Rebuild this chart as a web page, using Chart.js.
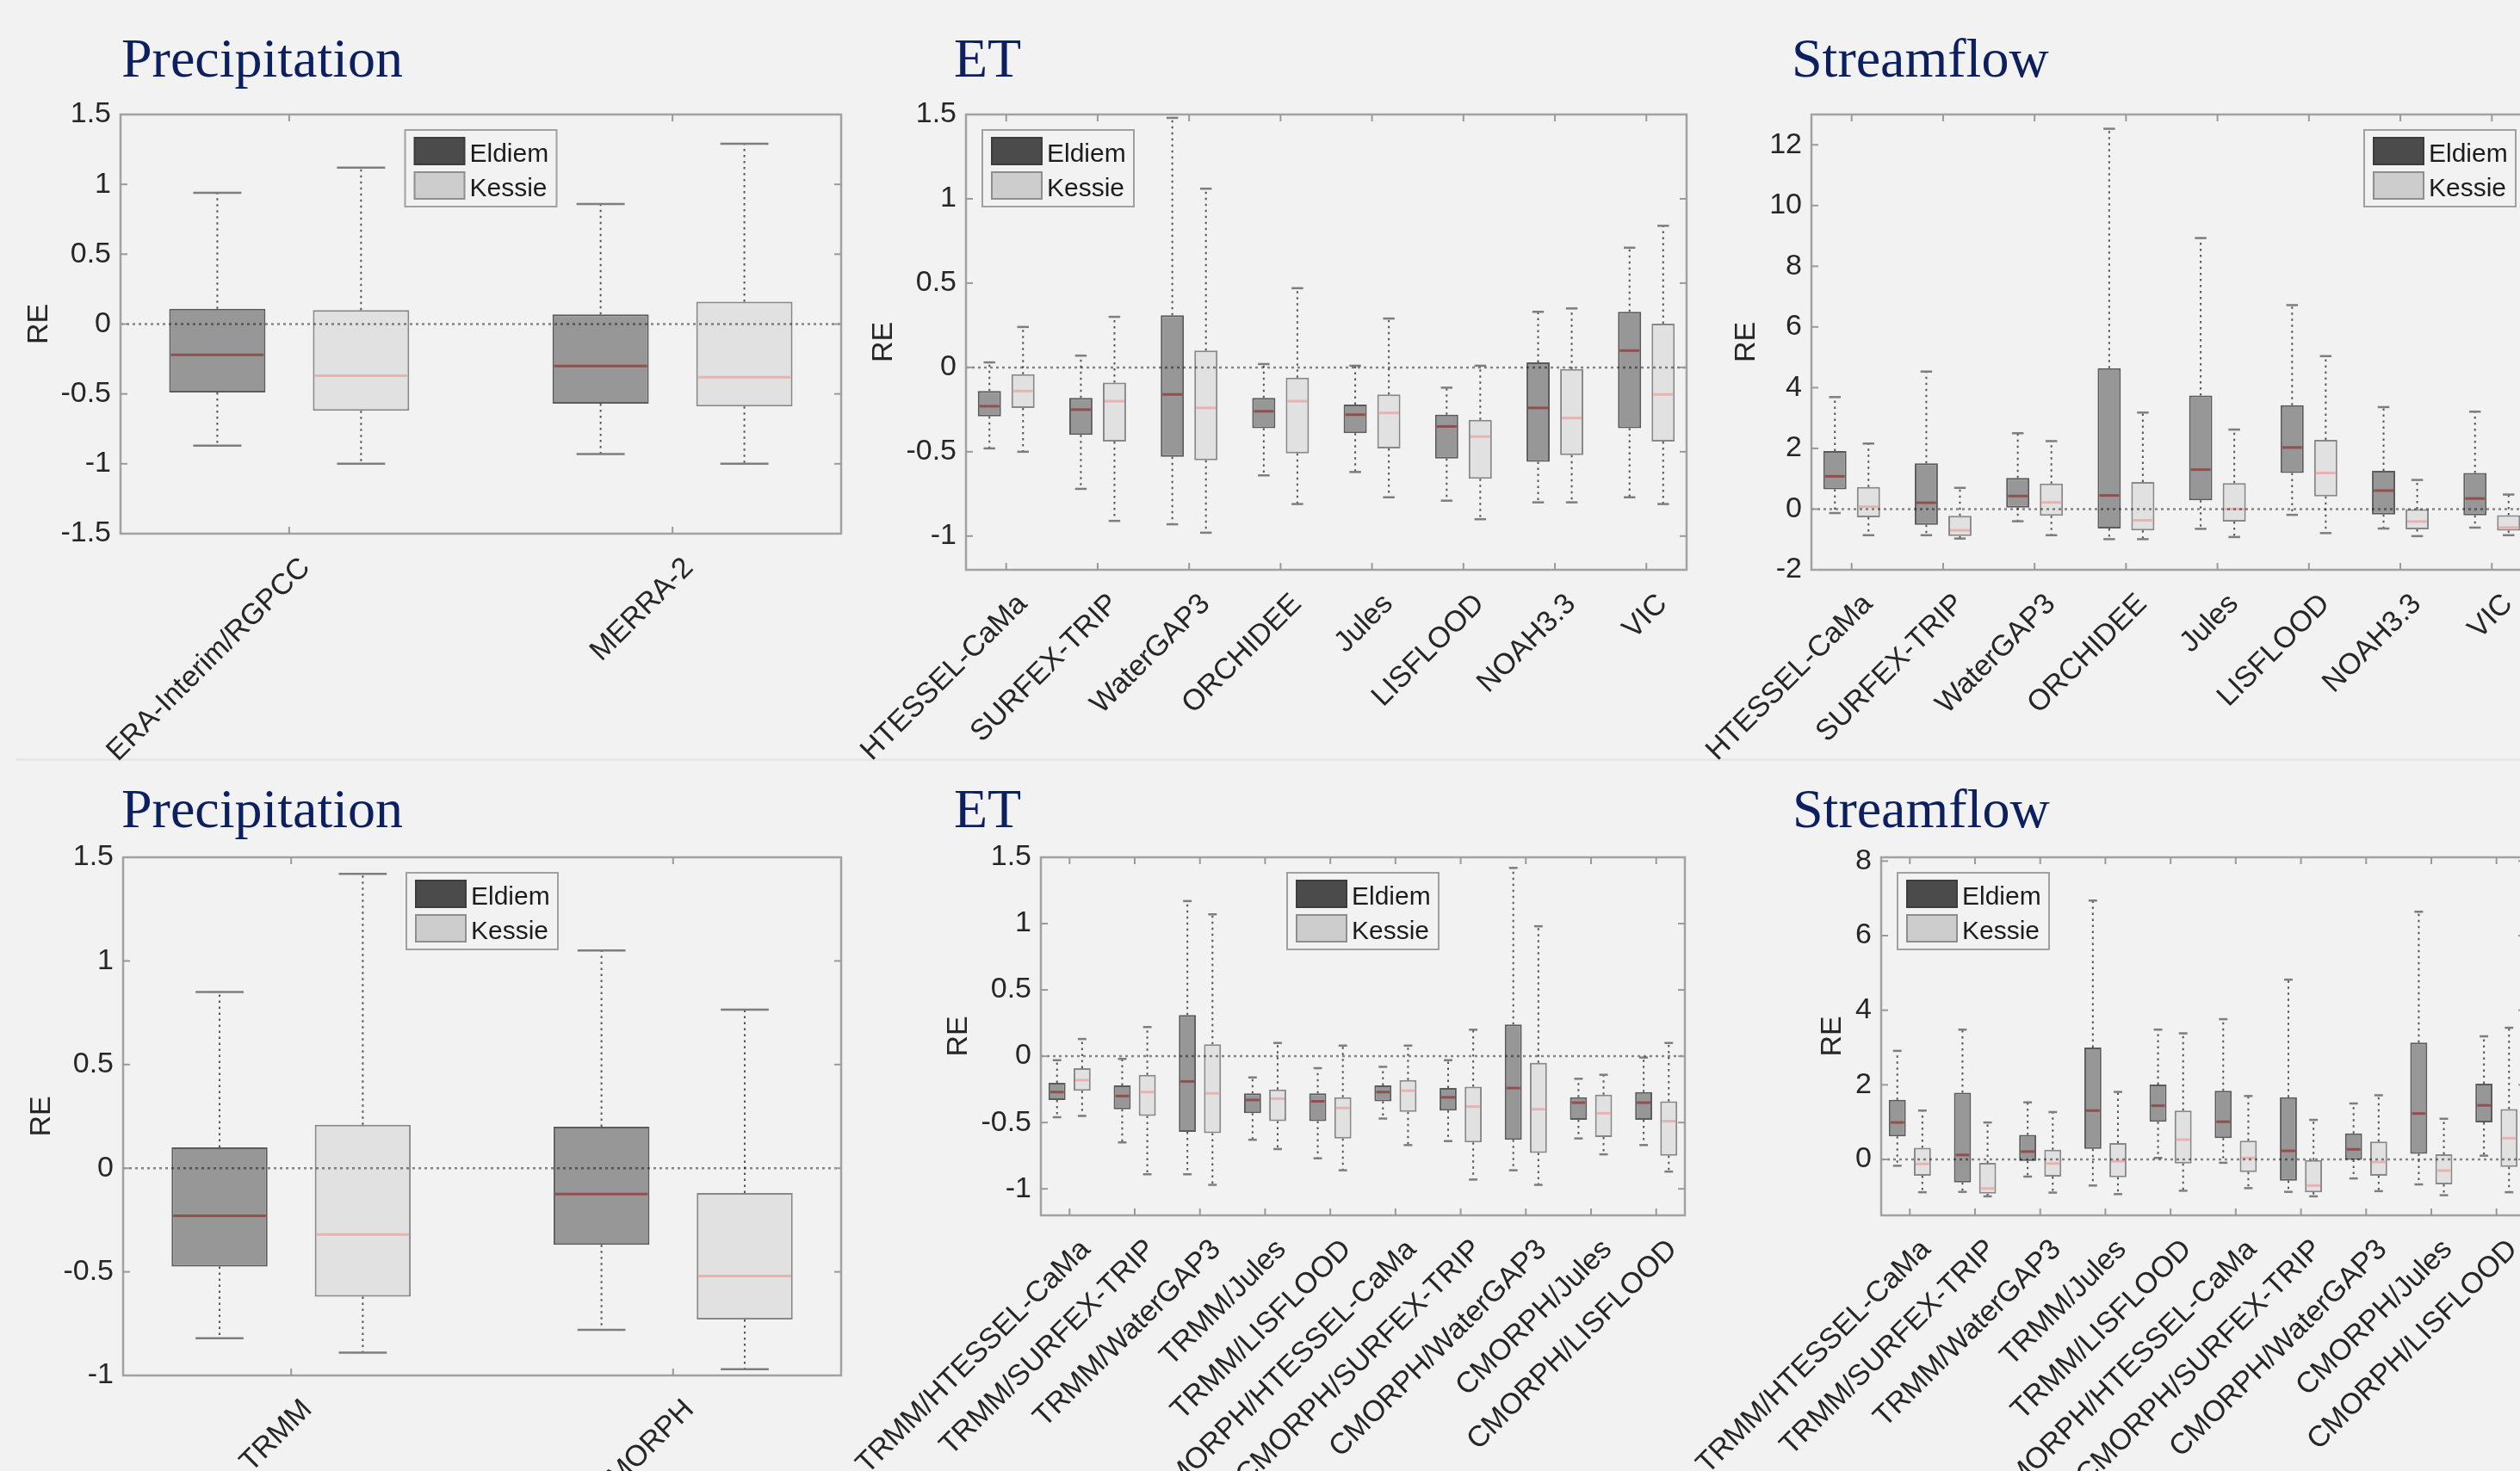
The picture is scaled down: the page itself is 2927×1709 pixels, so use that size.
<!DOCTYPE html>
<html>
<head>
<meta charset="utf-8">
<title>Relative error of precipitation, ET and streamflow</title>
<script src="https://cdn.jsdelivr.net/npm/chart.js@4/dist/chart.umd.min.js"></script>
<style>
  html, body { margin: 0; padding: 0; width: 2927px; height: 1709px; overflow: hidden; background: #f2f2f2; }
  .title { position: absolute; font-family: 'Liberation Serif', 'Times New Roman', serif; font-size: 64px;
           line-height: 64px; color: #0c1f5e; white-space: nowrap; }
  .sep { position: absolute; left: 18px; top: 881px; width: 2909px; height: 3px; background: #e7e7e7; }
  canvas { position: absolute; }
</style>
</head>
<body>
<div class="sep"></div>
<div class="title" style="left:141px;top:36px">Precipitation</div>
<div class="title" style="left:1108px;top:36px">ET</div>
<div class="title" style="left:2081px;top:36px">Streamflow</div>
<div class="title" style="left:141px;top:908px">Precipitation</div>
<div class="title" style="left:1108px;top:908px">ET</div>
<div class="title" style="left:2082px;top:908px">Streamflow</div>

<script>
// Five-number summaries per category: [min, q1, median, q3, max] of relative error (RE)

// Precipitation products (reanalysis)
const precipReCats = ['ERA-Interim/RGPCC', 'MERRA-2'];
const precipReEldiem = [[-0.87, -0.49, -0.22, 0.11, 0.94], [-0.93, -0.57, -0.30, 0.07, 0.86]];
const precipReKessie = [[-1.00, -0.62, -0.37, 0.10, 1.12], [-1.00, -0.59, -0.38, 0.16, 1.29]];
const precipReTicks = [-1.5, -1, -0.5, 0, 0.5, 1, 1.5];

// ET by hydrological model
const modelCats = ['HTESSEL-CaMa', 'SURFEX-TRIP', 'WaterGAP3', 'ORCHIDEE', 'Jules', 'LISFLOOD', 'NOAH3.3', 'VIC'];
const etModelEldiem = [
  [-0.48, -0.29, -0.23, -0.14, 0.03],
  [-0.72, -0.40, -0.25, -0.18, 0.07],
  [-0.93, -0.53, -0.16, 0.31, 1.48],
  [-0.64, -0.36, -0.26, -0.18, 0.02],
  [-0.62, -0.39, -0.28, -0.22, 0.01],
  [-0.79, -0.54, -0.35, -0.28, -0.12],
  [-0.80, -0.56, -0.24, 0.03, 0.33],
  [-0.77, -0.36, 0.10, 0.33, 0.71]
];
const etModelKessie = [
  [-0.50, -0.24, -0.14, -0.04, 0.24],
  [-0.91, -0.44, -0.20, -0.09, 0.30],
  [-0.98, -0.55, -0.24, 0.10, 1.06],
  [-0.81, -0.51, -0.20, -0.06, 0.47],
  [-0.77, -0.48, -0.27, -0.16, 0.29],
  [-0.90, -0.66, -0.41, -0.31, 0.01],
  [-0.80, -0.52, -0.30, -0.01, 0.35],
  [-0.81, -0.44, -0.16, 0.26, 0.84]
];
const etTicks = [-1, -0.5, 0, 0.5, 1, 1.5];

// Streamflow by hydrological model
const sfModelEldiem = [
  [-0.13, 0.65, 1.08, 1.91, 3.69],
  [-0.86, -0.52, 0.21, 1.51, 4.53],
  [-0.40, 0.05, 0.43, 1.03, 2.50],
  [-0.99, -0.64, 0.45, 4.64, 12.53],
  [-0.65, 0.29, 1.30, 3.74, 8.93],
  [-0.19, 1.19, 2.03, 3.42, 6.72],
  [-0.64, -0.18, 0.61, 1.26, 3.36],
  [-0.61, -0.21, 0.35, 1.19, 3.21]
];
const sfModelKessie = [
  [-0.86, -0.27, 0.08, 0.73, 2.16],
  [-0.97, -0.89, -0.70, -0.22, 0.70],
  [-0.86, -0.22, 0.22, 0.84, 2.24],
  [-0.99, -0.70, -0.37, 0.89, 3.18],
  [-0.92, -0.41, 0.00, 0.86, 2.62],
  [-0.79, 0.42, 1.19, 2.28, 5.04],
  [-0.89, -0.67, -0.41, 0.00, 0.96],
  [-0.86, -0.71, -0.61, -0.20, 0.48]
];
const sfModelTicks = [-2, 0, 2, 4, 6, 8, 10, 12];

// Precipitation products (satellite)
const precipSatCats = ['TRMM', 'CMORPH'];
const precipSatEldiem = [[-0.82, -0.475, -0.23, 0.10, 0.85], [-0.78, -0.37, -0.125, 0.20, 1.05]];
const precipSatKessie = [[-0.89, -0.62, -0.32, 0.21, 1.42], [-0.97, -0.73, -0.52, -0.12, 0.765]];
const precipSatTicks = [-1, -0.5, 0, 0.5, 1, 1.5];

// Satellite forcing / model combinations
const comboCats = ['TRMM/HTESSEL-CaMa', 'TRMM/SURFEX-TRIP', 'TRMM/WaterGAP3', 'TRMM/Jules', 'TRMM/LISFLOOD',
                   'CMORPH/HTESSEL-CaMa', 'CMORPH/SURFEX-TRIP', 'CMORPH/WaterGAP3', 'CMORPH/Jules', 'CMORPH/LISFLOOD'];
const etComboEldiem = [
  [-0.46, -0.33, -0.27, -0.20, -0.03],
  [-0.65, -0.40, -0.30, -0.22, -0.02],
  [-0.89, -0.57, -0.19, 0.31, 1.17],
  [-0.63, -0.43, -0.33, -0.28, -0.16],
  [-0.77, -0.49, -0.34, -0.28, -0.09],
  [-0.47, -0.34, -0.27, -0.22, -0.08],
  [-0.64, -0.41, -0.31, -0.24, -0.03],
  [-0.86, -0.63, -0.24, 0.24, 1.42],
  [-0.62, -0.48, -0.35, -0.31, -0.17],
  [-0.67, -0.48, -0.35, -0.27, -0.01]
];
const etComboKessie = [
  [-0.45, -0.26, -0.18, -0.09, 0.13],
  [-0.89, -0.45, -0.27, -0.14, 0.22],
  [-0.97, -0.58, -0.28, 0.09, 1.07],
  [-0.70, -0.49, -0.32, -0.25, 0.10],
  [-0.86, -0.62, -0.39, -0.31, 0.08],
  [-0.67, -0.42, -0.26, -0.18, 0.08],
  [-0.93, -0.65, -0.38, -0.23, 0.20],
  [-0.97, -0.73, -0.40, -0.05, 0.98],
  [-0.74, -0.61, -0.43, -0.29, -0.14],
  [-0.87, -0.75, -0.49, -0.34, 0.10]
];
const sfComboEldiem = [
  [-0.17, 0.62, 0.99, 1.60, 2.91],
  [-0.87, -0.62, 0.12, 1.79, 3.48],
  [-0.46, -0.04, 0.21, 0.66, 1.53],
  [-0.70, 0.28, 1.31, 3.00, 6.94],
  [0.04, 1.01, 1.44, 2.01, 3.48],
  [-0.09, 0.57, 1.01, 1.84, 3.76],
  [-0.87, -0.57, 0.23, 1.67, 4.82],
  [-0.51, -0.01, 0.27, 0.70, 1.50],
  [-0.67, 0.15, 1.23, 3.13, 6.64],
  [0.10, 0.99, 1.45, 2.03, 3.30]
];
const sfComboKessie = [
  [-0.88, -0.44, -0.12, 0.31, 1.31],
  [-0.99, -0.92, -0.78, -0.09, 0.99],
  [-0.89, -0.46, -0.11, 0.26, 1.27],
  [-0.93, -0.48, -0.05, 0.44, 1.81],
  [-0.84, -0.11, 0.53, 1.31, 3.38],
  [-0.77, -0.34, 0.04, 0.50, 1.70],
  [-0.99, -0.88, -0.70, -0.02, 1.06],
  [-0.85, -0.44, -0.07, 0.48, 1.72],
  [-0.96, -0.67, -0.30, 0.14, 1.09],
  [-0.88, -0.20, 0.57, 1.35, 3.53]
];
const sfComboTicks = [0, 2, 4, 6, 8];

// ---- appearance ----
const SANS = "'Liberation Sans', Arial, Helvetica, sans-serif";
const TEXT = '#262626';
const FRAME = '#a2a2a2';
const AXIS_FONT = 34;
const Y_AXIS_W = 140;   // room reserved for y tick labels + "RE"
const PAD_L = 270;      // extra canvas room so rotated labels are not clipped
const PAD_T = 26;
const PAD_R = 40;
const X_MARGIN = 0.44;  // blank space before the first / after the last group, in category units

Chart.defaults.font.family = SANS;
Chart.defaults.color = TEXT;

const series = [
  { label: 'Eldiem', fill: '#979797', edge: '#5b5b5b', median: '#914f4f', legendFill: '#4b4b4b', legendEdge: '#3c3c3c' },
  { label: 'Kessie', fill: '#e1e1e1', edge: '#888888', median: '#e8b2b2', legendFill: '#cdcdcd', legendEdge: '#8e8e8e' }
];

function line(ctx, x1, y1, x2, y2) {
  ctx.beginPath(); ctx.moveTo(x1, y1); ctx.lineTo(x2, y2); ctx.stroke();
}

// Whiskers, caps, medians, zero reference, MATLAB-style frame with inward ticks, and the legend box
const boxplotParts = {
  id: 'boxplotParts',
  afterDatasetsDraw(chart, args, opts) {
    const ctx = chart.ctx;
    const ys = chart.scales.y, xs = chart.scales.x, a = chart.chartArea;
    ctx.save();

    chart.data.datasets.forEach((ds, di) => {
      const meta = chart.getDatasetMeta(di);
      meta.data.forEach((bar, i) => {
        const [lo, q1, med, q3, hi] = ds.stats[i];
        const cx = bar.x, w = bar.width;
        const pLo = ys.getPixelForValue(lo), pQ1 = ys.getPixelForValue(q1);
        const pMed = ys.getPixelForValue(med), pQ3 = ys.getPixelForValue(q3), pHi = ys.getPixelForValue(hi);
        ctx.lineCap = 'butt';
        ctx.setLineDash([2.5, 4.5]);
        ctx.strokeStyle = '#555555';
        ctx.lineWidth = 2;
        line(ctx, cx, pQ3, cx, pHi);
        line(ctx, cx, pQ1, cx, pLo);
        ctx.setLineDash([]);
        ctx.strokeStyle = '#7e7e7e';
        ctx.lineWidth = 2.5;
        line(ctx, cx - w / 4, pHi, cx + w / 4, pHi);
        line(ctx, cx - w / 4, pLo, cx + w / 4, pLo);
        ctx.strokeStyle = ds.medianColor;
        ctx.lineWidth = 3;
        line(ctx, cx - w / 2 + 2, pMed, cx + w / 2 - 2, pMed);
      });
    });

    // dotted zero reference line
    const p0 = ys.getPixelForValue(0);
    ctx.setLineDash([3, 4]);
    ctx.strokeStyle = 'rgba(0,0,0,0.45)';
    ctx.lineWidth = 2.5;
    line(ctx, a.left, p0, a.right, p0);
    ctx.setLineDash([]);

    // frame
    ctx.strokeStyle = FRAME;
    ctx.lineWidth = 2.5;
    ctx.strokeRect(a.left, a.top, a.right - a.left, a.bottom - a.top);

    // inward tick marks on all four sides
    ctx.strokeStyle = '#9a9a9a';
    ctx.lineWidth = 2;
    const tl = 8;
    ys.ticks.forEach(t => {
      const p = ys.getPixelForValue(t.value);
      if (p <= a.top + 1 || p >= a.bottom - 1) return;
      line(ctx, a.left, p, a.left + tl, p);
      line(ctx, a.right, p, a.right - tl, p);
    });
    xs.ticks.forEach(t => {
      const p = xs.getPixelForValue(t.value);
      line(ctx, p, a.bottom, p, a.bottom - tl);
      line(ctx, p, a.top, p, a.top + tl);
    });

    // legend
    const lw = 176, lh = 89;
    let lx;
    if (opts.legend === 'north') lx = (a.left + a.right) / 2 - lw / 2;
    else if (opts.legend === 'northwest') lx = a.left + 19;
    else lx = a.right - 19 - lw;
    const ly = a.top + 18;
    ctx.fillStyle = '#f2f2f2';
    ctx.fillRect(lx, ly, lw, lh);
    ctx.strokeStyle = '#a0a0a0';
    ctx.lineWidth = 2;
    ctx.strokeRect(lx, ly, lw, lh);
    chart.data.datasets.forEach((ds, i) => {
      const py = ly + 9 + i * 40;
      ctx.fillStyle = ds.legendFill;
      ctx.fillRect(lx + 11, py, 58, 31);
      ctx.strokeStyle = ds.legendEdge;
      ctx.lineWidth = 2;
      ctx.strokeRect(lx + 11, py, 58, 31);
      ctx.fillStyle = '#1c1c1c';
      ctx.font = '30px ' + SANS;
      ctx.textAlign = 'left';
      ctx.textBaseline = 'alphabetic';
      ctx.fillText(ds.label, lx + 75, py + 28);
    });
    ctx.restore();
  }
};

function makePanel(p) {
  const n = p.cats.length;
  const canvas = document.createElement('canvas');
  const width = PAD_L + Y_AXIS_W + (p.R - p.L) + PAD_R;
  const height = PAD_T + (p.B - p.T) + p.xh;
  canvas.width = width;
  canvas.height = height;
  canvas.style.left = (p.L - Y_AXIS_W - PAD_L) + 'px';
  canvas.style.top = (p.T - PAD_T) + 'px';
  canvas.style.width = width + 'px';
  canvas.style.height = height + 'px';
  document.body.appendChild(canvas);

  const datasets = [p.eldiem, p.kessie].map((stats, si) => ({
    label: series[si].label,
    data: stats.map((s, i) => ({ x: i + 1, y: [s[1], s[3]] })),
    stats: stats,
    backgroundColor: series[si].fill,
    borderColor: series[si].edge,
    borderWidth: 2,
    borderSkipped: false,
    medianColor: series[si].median,
    legendFill: series[si].legendFill,
    legendEdge: series[si].legendEdge,
    categoryPercentage: p.cp,
    barPercentage: p.bp
  }));

  new Chart(canvas, {
    type: 'bar',
    data: { datasets },
    plugins: [boxplotParts],
    options: {
      responsive: false,
      devicePixelRatio: 1,
      animation: false,
      events: [],
      layout: { padding: { left: PAD_L, top: PAD_T, right: PAD_R, bottom: 0 } },
      plugins: {
        legend: { display: false },
        tooltip: { enabled: false },
        boxplotParts: { legend: p.legend }
      },
      scales: {
        x: {
          type: 'linear',
          offset: false,
          min: 1 - X_MARGIN,
          max: n + X_MARGIN,
          afterBuildTicks: s => { s.ticks = p.cats.map((c, i) => ({ value: i + 1 })); },
          afterFit: s => { s.height = p.xh; s.paddingLeft = 0; s.paddingRight = 0; },
          grid: { display: false, drawTicks: false },
          border: { display: false },
          ticks: {
            autoSkip: false,
            minRotation: 45,
            maxRotation: 45,
            padding: 20,
            labelOffset: 19,
            color: TEXT,
            font: { size: AXIS_FONT },
            callback: v => p.cats[Math.round(v) - 1]
          }
        },
        y: {
          type: 'linear',
          min: p.yMin,
          max: p.yMax,
          beginAtZero: false,
          afterBuildTicks: s => { s.ticks = p.yTicks.map(v => ({ value: v })); },
          afterFit: s => { s.width = Y_AXIS_W; s.paddingTop = 0; s.paddingBottom = 0; },
          grid: { display: false, drawTicks: false },
          border: { display: false },
          ticks: { padding: 11, color: TEXT, font: { size: AXIS_FONT }, callback: v => String(v) },
          title: {
            display: true, text: 'RE', color: TEXT, font: { size: AXIS_FONT },
            padding: { top: Y_AXIS_W - p.titleGap - AXIS_FONT * 0.6, bottom: 0 }
          }
        }
      }
    }
  });
}

const panels = [
  { cats: precipReCats, eldiem: precipReEldiem, kessie: precipReKessie, yTicks: precipReTicks,
    yMin: -1.5, yMax: 1.5, L: 140, R: 977, T: 133, B: 620, xh: 300,
    legend: 'north', cp: 0.75, bp: 0.67, titleGap: 94 },
  { cats: modelCats, eldiem: etModelEldiem, kessie: etModelKessie, yTicks: etTicks,
    yMin: -1.2, yMax: 1.5, L: 1122, R: 1959, T: 133, B: 662, xh: 300,
    legend: 'northwest', cp: 0.735, bp: 0.69, titleGap: 95 },
  { cats: modelCats, eldiem: sfModelEldiem, kessie: sfModelKessie, yTicks: sfModelTicks,
    yMin: -2, yMax: 13, L: 2104, R: 2941, T: 133, B: 662, xh: 300,
    legend: 'northeast', cp: 0.735, bp: 0.69, titleGap: 75 },
  { cats: precipSatCats, eldiem: precipSatEldiem, kessie: precipSatKessie, yTicks: precipSatTicks,
    yMin: -1, yMax: 1.5, L: 143, R: 977, T: 996, B: 1598, xh: 200,
    legend: 'north', cp: 0.75, bp: 0.67, titleGap: 94 },
  { cats: comboCats, eldiem: etComboEldiem, kessie: etComboKessie, yTicks: etTicks,
    yMin: -1.2, yMax: 1.5, L: 1209, R: 1957, T: 996, B: 1412, xh: 400,
    legend: 'north', cp: 0.77, bp: 0.68, titleGap: 95 },
  { cats: comboCats, eldiem: sfComboEldiem, kessie: sfComboKessie, yTicks: sfComboTicks,
    yMin: -1.5, yMax: 8.1, L: 2185, R: 2933, T: 996, B: 1412, xh: 400,
    legend: 'northwest', cp: 0.77, bp: 0.68, titleGap: 56 }
];

panels.forEach(makePanel);
</script>
</body>
</html>
